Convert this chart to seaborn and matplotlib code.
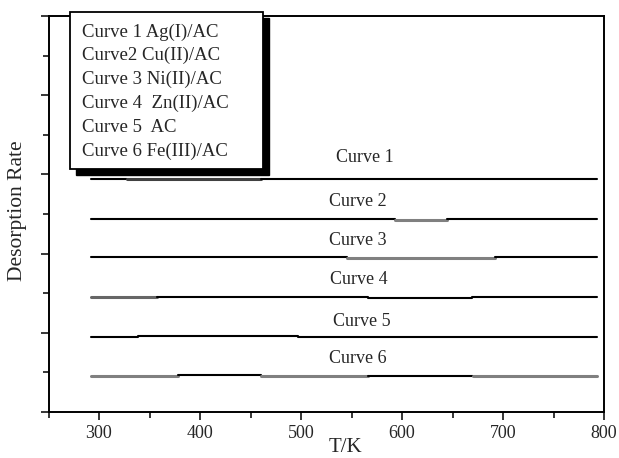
import matplotlib
matplotlib.use("Agg")
import matplotlib.pyplot as plt
from matplotlib.patches import Rectangle
from matplotlib.ticker import MultipleLocator, NullFormatter
import seaborn as sns

# Curve data: breakpoints in T/K, level of each piece and its shade
curve_names = ["Curve 1", "Curve 2", "Curve 3", "Curve 4", "Curve 5", "Curve 6"]
curve_x = [
    [292, 328, 460, 793],
    [292, 593, 645, 793],
    [292, 546, 692, 793],
    [292, 357, 566, 669, 793],
    [292, 339, 497, 793],
    [292, 378, 460, 566, 670, 793],
]
curve_y = [
    [2.94, 2.945, 2.94],
    [2.44, 2.43, 2.44],
    [1.96, 1.945, 1.96],
    [1.455, 1.455, 1.44, 1.455],
    [0.95, 0.965, 0.95],
    [0.45, 0.465, 0.45, 0.46, 0.45],
]
curve_shade = [
    ["k", "0.25", "k"],
    ["k", "0.5", "k"],
    ["k", "0.5", "k"],
    ["0.4", "k", "k", "k"],
    ["k", "k", "k"],
    ["0.5", "k", "0.5", "k", "0.5"],
]
label_x = [563, 556, 556, 557, 560, 556]
label_y = [3.21, 2.66, 2.16, 1.67, 1.14, 0.68]

legend_lines = [
    "Curve 1 Ag(I)/AC",
    "Curve2 Cu(II)/AC",
    "Curve 3 Ni(II)/AC",
    "Curve 4  Zn(II)/AC",
    "Curve 5  AC",
    "Curve 6 Fe(III)/AC",
]

sns.set_style("ticks")
plt.rcParams["font.family"] = ["Liberation Serif", "DejaVu Serif"]

W, H = 619, 458
fig = plt.figure(figsize=(W / 100, H / 100), dpi=100)
ax = fig.add_axes([48.5 / W, (H - 412) / H, 555.5 / W, 396 / H])

for xs, ys, cs in zip(curve_x, curve_y, curve_shade):
    for i in range(len(ys)):
        lw = 1.5 if cs[i] == "k" else 2.2
        sns.lineplot(x=[xs[i], xs[i + 1]], y=[ys[i], ys[i]], color=cs[i],
                     lw=lw, ax=ax, legend=False)

for name, lx, ly in zip(curve_names, label_x, label_y):
    ax.text(lx, ly, name, ha="center", va="center", fontsize=13)

ax.set_xlim(250, 800)
ax.set_ylim(0, 5)
ax.xaxis.set_major_locator(MultipleLocator(100))
ax.xaxis.set_minor_locator(MultipleLocator(50))
ax.yaxis.set_major_locator(MultipleLocator(1))
ax.yaxis.set_minor_locator(MultipleLocator(0.5))
ax.yaxis.set_major_formatter(NullFormatter())
ax.tick_params(which="major", length=6, width=1.3, labelsize=13, direction="out")
ax.tick_params(which="minor", length=4, width=1.3, direction="out")
for sp in ax.spines.values():
    sp.set_visible(True)
    sp.set_linewidth(1.4)
    sp.set_color("k")

ax.set_xlabel("T/K", fontsize=15, va="center")
ax.xaxis.set_label_coords(0.534, -(448 - 412) / 396)
ax.set_ylabel("Desorption Rate", fontsize=15.5, va="center")
ax.yaxis.set_label_coords(-(48.5 - 18) / 555.5, (412 - 211) / 396)

# boxed legend with drop shadow
bx, by, bw, bh = 70, 12, 193, 157
fig.patches.append(Rectangle(((bx + 6) / W, (H - by - bh - 6) / H), bw / W, bh / H,
                             transform=fig.transFigure, facecolor="k",
                             edgecolor="k", zorder=1))
fig.patches.append(Rectangle((bx / W, (H - by - bh) / H), bw / W, bh / H,
                             transform=fig.transFigure, facecolor="white",
                             edgecolor="k", lw=1.3, zorder=1.1))
for i, line in enumerate(legend_lines):
    fig.text(82 / W, (H - 32 - 23.8 * i) / H, line, ha="left", va="center",
             fontsize=13.5, zorder=4)

fig.savefig("out.png", dpi=100)
